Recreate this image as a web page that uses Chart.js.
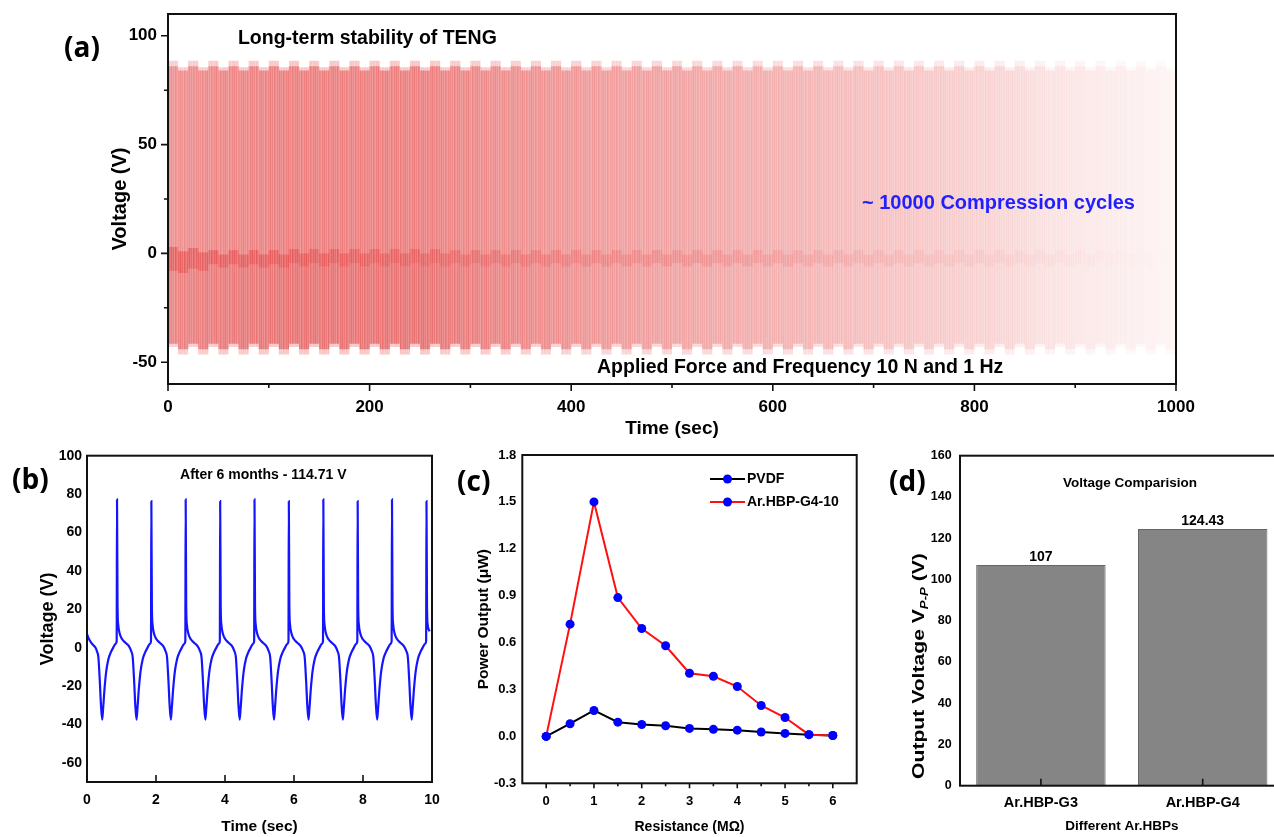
<!DOCTYPE html>
<html><head><meta charset="utf-8"><title>TENG stability</title>
<script src="https://cdn.jsdelivr.net/npm/chart.js@4.4.1/dist/chart.umd.min.js"></script>
<style>
html,body{margin:0;padding:0;background:#fff;width:1274px;height:837px;overflow:hidden;position:relative;font-family:'Liberation Sans',Arial,sans-serif;}
canvas{position:absolute;display:block;}
.plabel{position:absolute;font-family:'Liberation Sans Narrow','Open Sans',sans-serif;font-weight:700;font-size:28px;line-height:32px;color:#000;}
#dYTitle{position:absolute;white-space:nowrap;font-weight:700;font-size:16px;color:#000;transform:translate(-50%,-50%) rotate(-90deg) scaleX(1.32);}
#dYTitle sub{font-size:10px;font-style:italic;}
</style></head><body>
<canvas id="ca" width="1274" height="445" style="left:0;top:0"></canvas>
<canvas id="cb" width="440" height="397" style="left:0;top:440px"></canvas>
<canvas id="cc" width="440" height="397" style="left:440px;top:440px"></canvas>
<canvas id="cd" width="420" height="397" style="left:880px;top:440px"></canvas>
<div class="plabel" style="left:64px;top:30px">(a)</div>
<div class="plabel" style="left:12px;top:462px">(b)</div>
<div class="plabel" style="left:457px;top:464px">(c)</div>
<div class="plabel" style="left:889px;top:464px">(d)</div>
<div id="dYTitle" style="left:920px;top:666px">Output Voltage V<sub>P-P</sub> (V)</div>
<script>
// ================= DATA =================
// (a) Long-term stability, read per 10-s block of compression cycles
const aTime = [
  5,15,25,35,45,55,65,75,85,95,
  105,115,125,135,145,155,165,175,185,195,
  205,215,225,235,245,255,265,275,285,295,
  305,315,325,335,345,355,365,375,385,395,
  405,415,425,435,445,455,465,475,485,495,
  505,515,525,535,545,555,565,575,585,595,
  605,615,625,635,645,655,665,675,685,695,
  705,715,725,735,745,755,765,775,785,795,
  805,815,825,835,845,855,865,875,885,895,
  905,915,925,935,945,955,965,975,985,995];
const aTop = [
  88.5,85.5,88.5,85.5,88.5,85.5,88.5,85.5,88.5,85.5,
  88.5,85.5,88.5,85.5,88.5,85.5,88.5,85.5,88.5,85.5,
  88.5,85.5,88.5,85.5,88.5,85.5,88.5,85.5,88.5,85.5,
  88.5,85.5,88.5,85.5,88.5,85.5,88.5,85.5,88.5,85.5,
  88.5,85.5,88.5,85.5,88.5,85.5,88.5,85.5,88.5,85.5,
  88.5,85.5,88.5,85.5,88.5,85.5,88.5,85.5,88.5,85.5,
  88.5,85.5,88.5,85.5,88.5,85.5,88.5,85.5,88.5,85.5,
  88.5,85.5,88.5,85.5,88.5,85.5,88.5,85.5,88.5,85.5,
  88.5,85.5,88.5,85.5,88.5,85.5,88.5,85.5,88.5,85.5,
  88.5,85.5,88.5,85.5,88.5,85.5,88.5,85.5,88.5,85.5];
const aBottom = [
  -43,-46.5,-43,-46.5,-43,-46.5,-43,-46.5,-43,-46.5,
  -43,-46.5,-43,-46.5,-43,-46.5,-43,-46.5,-43,-46.5,
  -43,-46.5,-43,-46.5,-43,-46.5,-43,-46.5,-43,-46.5,
  -43,-46.5,-43,-46.5,-43,-46.5,-43,-46.5,-43,-46.5,
  -43,-46.5,-43,-46.5,-43,-46.5,-43,-46.5,-43,-46.5,
  -43,-46.5,-43,-46.5,-43,-46.5,-43,-46.5,-43,-46.5,
  -43,-46.5,-43,-46.5,-43,-46.5,-43,-46.5,-43,-46.5,
  -43,-46.5,-43,-46.5,-43,-46.5,-43,-46.5,-43,-46.5,
  -43,-46.5,-43,-46.5,-43,-46.5,-43,-46.5,-43,-46.5,
  -43,-46.5,-43,-46.5,-43,-46.5,-43,-46.5,-43,-46.5];
const aBodyTop = [
  86,84,86,84,86,84,86,84,86,84,
  86,84,86,84,86,84,86,84,86,84,
  86,84,86,84,86,84,86,84,86,84,
  86,84,86,84,86,84,86,84,86,84,
  86,84,86,84,86,84,86,84,86,84,
  86,84,86,84,86,84,86,84,86,84,
  86,84,86,84,86,84,86,84,86,84,
  86,84,86,84,86,84,86,84,86,84,
  86,84,86,84,86,84,86,84,86,84,
  86,84,86,84,86,84,86,84,86,84];
const aBodyBottom = [
  -41.5,-44,-41.5,-44,-41.5,-44,-41.5,-44,-41.5,-44,
  -41.5,-44,-41.5,-44,-41.5,-44,-41.5,-44,-41.5,-44,
  -41.5,-44,-41.5,-44,-41.5,-44,-41.5,-44,-41.5,-44,
  -41.5,-44,-41.5,-44,-41.5,-44,-41.5,-44,-41.5,-44,
  -41.5,-44,-41.5,-44,-41.5,-44,-41.5,-44,-41.5,-44,
  -41.5,-44,-41.5,-44,-41.5,-44,-41.5,-44,-41.5,-44,
  -41.5,-44,-41.5,-44,-41.5,-44,-41.5,-44,-41.5,-44,
  -41.5,-44,-41.5,-44,-41.5,-44,-41.5,-44,-41.5,-44,
  -41.5,-44,-41.5,-44,-41.5,-44,-41.5,-44,-41.5,-44,
  -41.5,-44,-41.5,-44,-41.5,-44,-41.5,-44,-41.5,-44];
const aMidTop = [
  3,1,2.5,0.5,1.5,-0.5,1.5,-0.5,1.5,-0.5,
  1.5,-0.5,2,0,2,0,2,0,2,0,
  2,0,2,0,2,0,2,0,1.5,-0.5,
  1.5,-0.5,1.5,-0.5,1.5,-0.5,1.5,-0.5,1.5,-0.5,
  1.5,-0.5,1.5,-0.5,1.5,-0.5,1.5,-0.5,1.5,-0.5,
  1.5,-0.5,1.5,-0.5,1.5,-0.5,1.5,-0.5,1.5,-0.5,
  1.5,-0.5,1.5,-0.5,1.5,-0.5,1.5,-0.5,1.5,-0.5,
  1.5,-0.5,1.5,-0.5,1.5,-0.5,1.5,-0.5,1.5,-0.5,
  1.5,-0.5,1.5,-0.5,1.5,-0.5,1.5,-0.5,1.5,-0.5,
  1.5,-0.5,1.5,-0.5,1.5,-0.5,1.5,-0.5,1.5,-0.5];
const aMidBottom = [
  -8,-9,-7,-8,-5,-6.5,-5,-6.5,-5,-6.5,
  -5,-6.5,-4.5,-6,-4.5,-6,-4.5,-6,-4.5,-6,
  -4.5,-6,-4.5,-6,-4.5,-6,-4.5,-6,-4.5,-6,
  -4.5,-6,-4.5,-6,-4.5,-6,-4.5,-6,-4.5,-6,
  -4.5,-6,-4.5,-6,-4.5,-6,-4.5,-6,-4.5,-6,
  -4.5,-6,-4.5,-6,-4.5,-6,-4.5,-6,-4.5,-6,
  -4.5,-6,-4.5,-6,-4.5,-6,-4.5,-6,-4.5,-6,
  -4.5,-6,-4.5,-6,-4.5,-6,-4.5,-6,-4.5,-6,
  -4.5,-6,-4.5,-6,-4.5,-6,-4.5,-6,-4.5,-6,
  -4.5,-6,-4.5,-6,-4.5,-6,-4.5,-6,-4.5,-6];
const aXTicks = [0,200,400,600,800,1000];
const aXMinor = [100,300,500,700,900];
const aYTicks = [-50,0,50,100];
const aYMinor = [-25,25,75];

// (b) Output after 6 months
const bTime = [
  0,0.05,0.12,0.2,0.26,
  0.29,0.33,0.37,0.405,0.44,0.47,0.51,0.56,0.62,0.69,0.76,0.83,0.86,0.87,0.885,0.905,0.945,1.015,1.115,1.215,
  1.285,1.325,1.365,1.4,1.435,1.465,1.505,1.555,1.615,1.685,1.755,1.825,1.855,1.865,1.88,1.9,1.94,2.01,2.11,2.21,
  2.28,2.32,2.36,2.395,2.43,2.46,2.5,2.55,2.61,2.68,2.75,2.82,2.85,2.86,2.875,2.895,2.935,3.005,3.105,3.205,
  3.28,3.32,3.36,3.395,3.43,3.46,3.5,3.55,3.61,3.68,3.75,3.82,3.85,3.86,3.875,3.895,3.935,4.005,4.105,4.205,
  4.275,4.315,4.355,4.39,4.425,4.455,4.495,4.545,4.605,4.675,4.745,4.815,4.845,4.855,4.87,4.89,4.93,5.0,5.1,5.2,
  5.27,5.31,5.35,5.385,5.42,5.45,5.49,5.54,5.6,5.67,5.74,5.81,5.84,5.85,5.865,5.885,5.925,5.995,6.095,6.195,
  6.27,6.31,6.35,6.385,6.42,6.45,6.49,6.54,6.6,6.67,6.74,6.81,6.84,6.85,6.865,6.885,6.925,6.995,7.095,7.195,
  7.265,7.305,7.345,7.38,7.415,7.445,7.485,7.535,7.595,7.665,7.735,7.805,7.835,7.845,7.86,7.88,7.92,7.99,8.09,8.19,
  8.26,8.3,8.34,8.375,8.41,8.44,8.48,8.53,8.59,8.66,8.73,8.8,8.83,8.84,8.855,8.875,8.915,8.985,9.085,9.185,
  9.26,9.3,9.34,9.375,9.41,9.44,9.48,9.53,9.59,9.66,9.73,9.8,9.83,9.84,9.855,9.875,9.93];
const bVolt = [
  7,4.8,2.6,1,-0.5,
  -2,-5,-17,-30,-37.5,-31,-21,-12,-6,-2.5,0,2,3.5,77.2,22,12,7.5,4.5,2.5,0.8,
  -2,-5,-17,-30,-37.5,-31,-21,-12,-6,-2.5,0,2,3.5,76.3,22,12,7.5,4.5,2.5,0.8,
  -2,-5,-17,-30,-37.5,-31,-21,-12,-6,-2.5,0,2,3.5,77.2,22,12,7.5,4.5,2.5,0.8,
  -2,-5,-17,-30,-37.5,-31,-21,-12,-6,-2.5,0,2,3.5,76.3,22,12,7.5,4.5,2.5,0.8,
  -2,-5,-17,-30,-37.5,-31,-21,-12,-6,-2.5,0,2,3.5,77.2,22,12,7.5,4.5,2.5,0.8,
  -2,-5,-17,-30,-37.5,-31,-21,-12,-6,-2.5,0,2,3.5,76.3,22,12,7.5,4.5,2.5,0.8,
  -2,-5,-17,-30,-37.5,-31,-21,-12,-6,-2.5,0,2,3.5,77.2,22,12,7.5,4.5,2.5,0.8,
  -2,-5,-17,-30,-37.5,-31,-21,-12,-6,-2.5,0,2,3.5,76.3,22,12,7.5,4.5,2.5,0.8,
  -2,-5,-17,-30,-37.5,-31,-21,-12,-6,-2.5,0,2,3.5,77.2,22,12,7.5,4.5,2.5,0.8,
  -2,-5,-17,-30,-37.5,-31,-21,-12,-6,-2.5,0,2,3.5,76.3,22,12,8.5];
const bXTicks = [0,2,4,6,8,10];
const bXInner = [2,4,6,8];
const bYTicks = [-60,-40,-20,0,20,40,60,80,100];

// (c) Power output vs load resistance
const cResistance = [0,0.5,1,1.5,2,2.5,3,3.5,4,4.5,5,5.5,6];
const cPVDF = [0,0.081,0.166,0.091,0.076,0.068,0.051,0.045,0.04,0.028,0.019,0.011,0.006];
const cHBP  = [0,0.718,1.5,0.888,0.69,0.58,0.404,0.385,0.319,0.198,0.121,0.011,0.006];
const cXTicks = [0,1,2,3,4,5,6];
const cXMinor = [0.5,1.5,2.5,3.5,4.5,5.5];
const cYTicks = [-0.3,0,0.3,0.6,0.9,1.2,1.5,1.8];

// (d) Voltage comparison
const dCategories = ['Ar.HBP-G3','Ar.HBP-G4'];
const dVoltage = [107,124.43];
const dYTicks = [0,20,40,60,80,100,120,140,160];

// ================= STYLE HELPERS =================
Chart.defaults.font.family = "'Liberation Sans', Arial, Helvetica, sans-serif";
Chart.defaults.font.weight = 'bold';
Chart.defaults.color = '#000';
Chart.defaults.animation = false;
Chart.defaults.plugins.legend.display = false;
Chart.defaults.plugins.tooltip.enabled = false;

const F = "'Liberation Sans', Arial, sans-serif";
const setTicks = arr => s => { s.ticks = arr.map(v => ({value: v})); };
const fixBox = (w, h) => s => {
  if (w !== null) s.width = w;
  if (h !== null) s.height = h;
  s.paddingLeft = 0; s.paddingRight = 0; s.paddingTop = 0; s.paddingBottom = 0;
};
const plain = v => String(v);

const framePlugin = {
  id: 'frame',
  afterDatasetsDraw(chart, args, o) {
    if (!o || !o.on) return;
    const {ctx, chartArea: a, scales} = chart;
    ctx.save();
    ctx.strokeStyle = '#111';
    ctx.lineWidth = o.tickWidth || 1.6;
    ctx.beginPath();
    (o.marks || []).forEach(m => {
      const s = scales[m.axis];
      m.values.forEach(v => {
        const p = s.getPixelForValue(v);
        if (m.axis === 'x') {
          ctx.moveTo(p, a.bottom);
          ctx.lineTo(p, m.dir === 'in' ? a.bottom - m.len : a.bottom + m.len);
        } else {
          ctx.moveTo(a.left, p);
          ctx.lineTo(m.dir === 'in' ? a.left + m.len : a.left - m.len, p);
        }
      });
    });
    ctx.stroke();
    ctx.lineWidth = o.lineWidth || 2;
    ctx.strokeRect(a.left, a.top, a.right - a.left, a.bottom - a.top);
    ctx.restore();
  }
};

const annotPlugin = {
  id: 'annot',
  afterDatasetsDraw(chart, args, o) {
    if (!o || !o.items) return;
    const {ctx, chartArea: a, scales} = chart;
    o.items.forEach(it => {
      const x = it.fx !== undefined ? a.left + it.fx * (a.right - a.left) : scales.x.getPixelForValue(it.x);
      const y = scales.y.getPixelForValue(it.y);
      ctx.save();
      ctx.font = it.font;
      ctx.fillStyle = it.color || '#000';
      ctx.textAlign = it.align || 'left';
      ctx.textBaseline = 'middle';
      ctx.fillText(it.text, x, y);
      ctx.restore();
    });
  }
};

const lineLegendPlugin = {
  id: 'lineLegend',
  afterDatasetsDraw(chart, args, o) {
    if (!o || !o.on) return;
    const ctx = chart.ctx;
    chart.data.datasets.forEach((ds, i) => {
      const y = o.y0 + i * o.dy;
      ctx.save();
      ctx.strokeStyle = ds.borderColor; ctx.lineWidth = ds.borderWidth;
      ctx.beginPath(); ctx.moveTo(o.x0, y); ctx.lineTo(o.x1, y); ctx.stroke();
      ctx.fillStyle = ds.pointBackgroundColor;
      ctx.beginPath(); ctx.arc((o.x0 + o.x1) / 2, y, ds.pointRadius, 0, Math.PI * 2); ctx.fill();
      ctx.fillStyle = '#000'; ctx.font = o.font; ctx.textAlign = 'left'; ctx.textBaseline = 'middle';
      ctx.fillText(ds.label, o.tx, y);
      ctx.restore();
    });
  }
};

const barLabelPlugin = {
  id: 'barLabels',
  afterDatasetsDraw(chart, args, o) {
    if (!o || !o.font) return;
    const ctx = chart.ctx;
    const meta = chart.getDatasetMeta(0);
    meta.data.forEach((el, i) => {
      ctx.save();
      ctx.font = o.font; ctx.fillStyle = '#000'; ctx.textAlign = 'center'; ctx.textBaseline = 'middle';
      ctx.fillText(String(chart.data.datasets[0].data[i]), el.x, el.y - o.offset);
      ctx.restore();
    });
  }
};

// horizontal fade for panel (a)
const aFade = [[0,0.53],[40,0.57],[120,0.62],[250,0.62],[320,0.56],[420,0.49],[520,0.44],[620,0.37],[720,0.29],[820,0.21],[870,0.15],[930,0.1],[1000,0.05]];
const aMidFade = [[0,0.4],[150,0.32],[300,0.24],[450,0.17],[600,0.12],[750,0.07],[880,0.03],[1000,0]];
const aLowFade = [[0,0.12],[250,0.12],[420,0.03],[500,0],[1000,0]];
function hGrad(chart, stops, rgb, f) {
  const area = chart.chartArea;
  if (!area) return 'rgba(0,0,0,0)';
  const sx = chart.scales.x;
  const g = chart.ctx.createLinearGradient(sx.getPixelForValue(0), 0, sx.getPixelForValue(1000), 0);
  stops.forEach(([t, al]) => g.addColorStop(t / 1000, 'rgba(' + rgb + ',' + (f ? f(al) : al).toFixed(3) + ')'));
  return g;
}
let stripePat = null;
function stripes(chart) {
  if (stripePat) return stripePat;
  const c = document.createElement('canvas'); c.width = 9; c.height = 4;
  const g = c.getContext('2d');
  [0, .18, .06, .24, 0, .12, .2, .04, .14].forEach((a, i) => { g.fillStyle = 'rgba(255,255,255,' + a + ')'; g.fillRect(i, 0, 1, 4); });
  stripePat = chart.ctx.createPattern(c, 'repeat');
  return stripePat;
}
const barBase = {barPercentage: 1, categoryPercentage: 1, grouped: false, borderWidth: 0, inflateAmount: 0};
const range = (lo, hi) => aTime.map((t, i) => ({x: t, y: [lo[i], hi[i]]}));

// ================= (a) =================
new Chart(document.getElementById('ca'), {
  type: 'bar',
  data: {datasets: [
    Object.assign({label: 'envelope', data: range(aBottom, aTop), order: 5,
      backgroundColor: c => hGrad(c.chart, aFade, '225,45,45', a => a * 0.45)}, barBase),
    Object.assign({label: 'body', data: range(aBodyBottom, aBodyTop), order: 4,
      backgroundColor: c => hGrad(c.chart, aFade, '225,45,45', a => 1 - (1 - a) / (1 - 0.45 * a))}, barBase),
    Object.assign({label: 'lower', data: range(aBodyBottom, aMidBottom), order: 3,
      backgroundColor: c => hGrad(c.chart, aLowFade, '210,30,30')}, barBase),
    Object.assign({label: 'baseline', data: range(aMidBottom, aMidTop), order: 2,
      backgroundColor: c => hGrad(c.chart, aMidFade, '220,25,25')}, barBase),
    Object.assign({label: 'cycles', data: range(aBottom, aTop), order: 1,
      backgroundColor: c => stripes(c.chart)}, barBase)
  ]},
  plugins: [framePlugin, annotPlugin],
  options: {
    responsive: false,
    layout: {padding: {top: 14, right: 98, left: 0, bottom: 0}},
    scales: {
      x: {type: 'linear', min: 0, max: 1000, offset: false,
        afterBuildTicks: setTicks(aXTicks), afterFit: fixBox(null, 61),
        grid: {display: false, drawTicks: false}, border: {display: false},
        ticks: {font: {size: 17, weight: 'bold'}, padding: 13, maxRotation: 0, autoSkip: false, callback: plain},
        title: {display: true, text: 'Time (sec)', font: {size: 19, weight: 'bold'}, padding: {top: 0, bottom: 5}}},
      y: {type: 'linear', min: -60, max: 110,
        afterBuildTicks: setTicks(aYTicks), afterFit: fixBox(168, null),
        grid: {display: false, drawTicks: false}, border: {display: false},
        ticks: {font: {size: 17, weight: 'bold'}, padding: 11, autoSkip: false, callback: plain},
        title: {display: true, text: 'Voltage (V)', font: {size: 20, weight: 'bold'}, padding: {top: 108, bottom: 0}}}
    },
    plugins: {
      frame: {on: true, lineWidth: 2, tickWidth: 1.6, marks: [
        {axis: 'x', values: aXTicks, len: 7, dir: 'out'},
        {axis: 'x', values: aXMinor, len: 4, dir: 'out'},
        {axis: 'y', values: aYTicks, len: 7, dir: 'out'},
        {axis: 'y', values: aYMinor, len: 4, dir: 'out'}]},
      annot: {items: [
        {text: 'Long-term stability of TENG', x: 69.4, y: 98.5, font: 'bold 19.5px ' + F},
        {text: '~ 10000 Compression cycles', x: 688.5, y: 23, font: 'bold 20px ' + F, color: '#1f1fff'},
        {text: 'Applied Force and Frequency 10 N and 1 Hz', x: 425.6, y: -52.4, font: 'bold 19.5px ' + F}]}
    }
  }
});

// ================= (b) =================
new Chart(document.getElementById('cb'), {
  type: 'line',
  data: {datasets: [{label: 'After 6 months', data: bTime.map((t, i) => ({x: t, y: bVolt[i]})),
    borderColor: '#1414ff', borderWidth: 2.2, pointRadius: 0, cubicInterpolationMode: 'monotone', fill: false}]},
  plugins: [framePlugin, annotPlugin],
  options: {
    responsive: false,
    layout: {padding: {top: 15.7, right: 8, left: 0, bottom: 0}},
    scales: {
      x: {type: 'linear', min: 0, max: 10,
        afterBuildTicks: setTicks(bXTicks), afterFit: fixBox(null, 55),
        grid: {display: false, drawTicks: false}, border: {display: false},
        ticks: {font: {size: 14, weight: 'bold'}, padding: 9.6, maxRotation: 0, autoSkip: false, callback: plain},
        title: {display: true, text: 'Time (sec)', font: {size: 15.5, weight: 'bold'}, padding: {top: 0, bottom: 1}}},
      y: {type: 'linear', min: -70, max: 100,
        afterBuildTicks: setTicks(bYTicks), afterFit: fixBox(87, null),
        grid: {display: false, drawTicks: false}, border: {display: false},
        ticks: {font: {size: 14, weight: 'bold'}, padding: 5, autoSkip: false, callback: plain},
        title: {display: true, text: 'Voltage (V)', font: {size: 18, weight: 'bold'}, padding: {top: 37, bottom: 0}}}
    },
    plugins: {
      frame: {on: true, lineWidth: 2, tickWidth: 1.6, marks: [{axis: 'x', values: bXInner, len: 7, dir: 'in'}]},
      annot: {items: [{text: 'After 6 months - 114.71 V', x: 5.11, y: 89.9, font: 'bold 14px ' + F, align: 'center'}]}
    }
  }
});

// ================= (c) =================
new Chart(document.getElementById('cc'), {
  type: 'line',
  data: {datasets: [
    {label: 'PVDF', data: cResistance.map((r, i) => ({x: r, y: cPVDF[i]})), order: 2,
      borderColor: '#000000', borderWidth: 2, pointRadius: 4.5, pointBackgroundColor: '#0000ff', pointBorderColor: '#0000ff', pointBorderWidth: 0},
    {label: 'Ar.HBP-G4-10', data: cResistance.map((r, i) => ({x: r, y: cHBP[i]})), order: 1,
      borderColor: '#ff1010', borderWidth: 2, pointRadius: 4.5, pointBackgroundColor: '#0000ff', pointBorderColor: '#0000ff', pointBorderWidth: 0}
  ]},
  plugins: [framePlugin, lineLegendPlugin],
  options: {
    responsive: false,
    layout: {padding: {top: 15, right: 23.3, left: 0, bottom: 0}},
    scales: {
      x: {type: 'linear', min: -0.5, max: 6.5,
        afterBuildTicks: setTicks(cXTicks), afterFit: fixBox(null, 53.7),
        grid: {display: false, drawTicks: false}, border: {display: false},
        ticks: {font: {size: 13, weight: 'bold'}, padding: 10.6, maxRotation: 0, autoSkip: false, callback: plain},
        title: {display: true, text: 'Resistance (MΩ)', font: {size: 14, weight: 'bold'}, padding: {top: 0, bottom: 1.6}}},
      y: {type: 'linear', min: -0.3, max: 1.8,
        afterBuildTicks: setTicks(cYTicks), afterFit: fixBox(82.3, null),
        grid: {display: false, drawTicks: false}, border: {display: false},
        ticks: {font: {size: 13, weight: 'bold'}, padding: 6, autoSkip: false, callback: v => Number(v).toFixed(1)},
        title: {display: true, text: 'Power Output (μW)', font: {size: 15.5, weight: 'bold'}, padding: {top: 34, bottom: 0}}}
    },
    plugins: {
      frame: {on: true, lineWidth: 2, tickWidth: 1.6, marks: [
        {axis: 'x', values: cXTicks, len: 5, dir: 'out'},
        {axis: 'x', values: cXMinor, len: 3, dir: 'out'}]},
      lineLegend: {on: true, x0: 270, x1: 305, tx: 307, y0: 39, dy: 23, font: 'bold 14px ' + F}
    }
  }
});

// ================= (d) =================
new Chart(document.getElementById('cd'), {
  type: 'bar',
  data: {labels: dCategories, datasets: [{label: 'Output Voltage', data: dVoltage,
    backgroundColor: '#858585', borderColor: '#666666', borderWidth: 1, barPercentage: 0.8, categoryPercentage: 1}]},
  plugins: [framePlugin, annotPlugin, barLabelPlugin],
  options: {
    responsive: false,
    layout: {padding: {top: 15.7, right: 16.4, left: 0, bottom: 0}},
    scales: {
      x: {afterFit: fixBox(null, 51.3),
        grid: {display: false, drawTicks: false}, border: {display: false},
        ticks: {font: {size: 14.5, weight: 'bold'}, padding: 8.6, maxRotation: 0, autoSkip: false},
        title: {display: true, text: 'Different Ar.HBPs', font: {size: 13.5, weight: 'bold'}, padding: {top: 0, bottom: 2.3}}},
      y: {type: 'linear', min: 0, max: 160,
        afterBuildTicks: setTicks(dYTicks), afterFit: fixBox(80, null),
        grid: {display: false, drawTicks: false}, border: {display: false},
        ticks: {font: {size: 12.5, weight: 'bold'}, padding: 8.3, autoSkip: false, callback: plain}}
    },
    plugins: {
      frame: {on: true, lineWidth: 2, tickWidth: 1.6, marks: [{axis: 'x', values: [0, 1], len: 7, dir: 'in'}]},
      annot: {items: [{text: 'Voltage Comparision', fx: 0.525, y: 146.6, font: 'bold 13.5px ' + F, align: 'center'}]},
      barLabels: {font: 'bold 14px ' + F, offset: 8}
    }
  }
});
</script>
</body></html>
